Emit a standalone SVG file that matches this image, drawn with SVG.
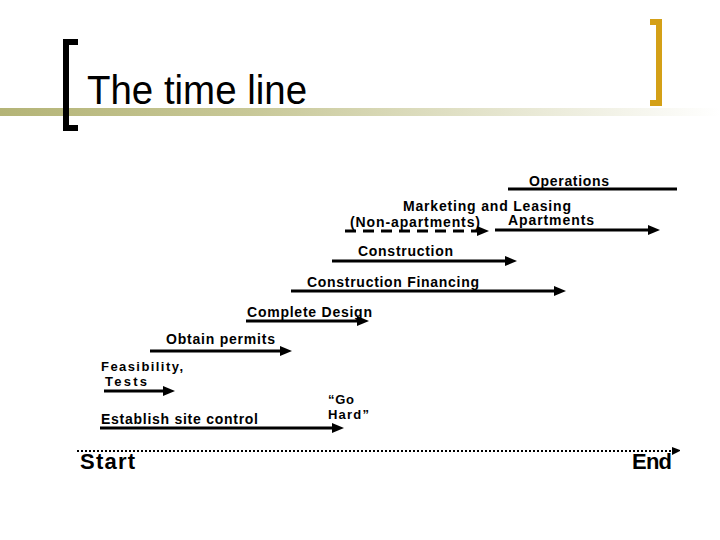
<svg xmlns="http://www.w3.org/2000/svg" width="720" height="540" viewBox="0 0 720 540">
<defs>
<linearGradient id="bar" x1="0" y1="0" x2="1" y2="0">
<stop offset="0" stop-color="#b4b477"/>
<stop offset="0.35" stop-color="#c8c898"/>
<stop offset="1" stop-color="#ffffff"/>
</linearGradient>
<marker id="ah" viewBox="0 0 12 10" refX="0" refY="5" markerWidth="12" markerHeight="10" markerUnits="userSpaceOnUse" orient="auto">
<path d="M0,0 L12,5 L0,10 Z" fill="#000"/>
</marker>
<marker id="ahs" viewBox="0 0 8 8" refX="0" refY="4" markerWidth="8" markerHeight="8" markerUnits="userSpaceOnUse" orient="auto">
<path d="M0,0 L8,3 L8,4 L0,8 Z" fill="#000"/>
</marker>
</defs>
<style>
.lbl{font-family:"Liberation Sans",Arial,sans-serif;font-weight:bold;font-size:14px;fill:#000}
.sm{font-size:13px}
.big{font-family:"Liberation Sans",Arial,sans-serif;font-weight:bold;font-size:22px;fill:#000}
.ln{stroke:#000;stroke-width:3;fill:none}
.arr{marker-end:url(#ah)}
</style>
<rect width="720" height="540" fill="#fff"/>
<g id="title">
<rect x="0" y="108" width="720" height="8" fill="url(#bar)"/>
<path d="M78,42 L66,42 L66,128 L78,128" fill="none" stroke="#000" stroke-width="6"/>
<path d="M650,22 L659,22 L659,103 L650,103" fill="none" stroke="#d4a017" stroke-width="6"/>
<text x="87" y="104" font-family="Liberation Sans,Arial,sans-serif" font-size="40" fill="#000" textLength="220" lengthAdjust="spacingAndGlyphs">The time line</text>
</g>
<g id="connectors">
<line class="ln" x1="508" y1="189" x2="677" y2="189"/>
<line class="ln arr" x1="345" y1="231" x2="477" y2="231" stroke-dasharray="11,7"/>
<line class="ln arr" x1="495" y1="230" x2="648" y2="230"/>
<line class="ln arr" x1="332" y1="261" x2="505" y2="261"/>
<line class="ln arr" x1="291" y1="291" x2="554" y2="291"/>
<line class="ln arr" x1="246" y1="321" x2="357" y2="321"/>
<line class="ln arr" x1="150" y1="351" x2="280" y2="351"/>
<line class="ln arr" x1="104" y1="391" x2="163" y2="391"/>
<line class="ln arr" x1="100" y1="428" x2="332" y2="428"/>
<line x1="77" y1="451" x2="672" y2="451" stroke="#000" stroke-width="2" stroke-dasharray="2,2" marker-end="url(#ahs)"/>
</g>
<g id="operations"><text class="lbl" x="529" y="186" textLength="80" lengthAdjust="spacing">Operations</text></g>
<g id="marketing">
<text class="lbl" x="403" y="211" textLength="168" lengthAdjust="spacing">Marketing and Leasing</text>
<text class="lbl" x="350" y="227" textLength="130" lengthAdjust="spacing">(Non-apartments)</text>
</g>
<g id="apartments"><text class="lbl" x="508" y="225" textLength="86" lengthAdjust="spacing">Apartments</text></g>
<g id="construction"><text class="lbl" x="358" y="256" textLength="95" lengthAdjust="spacing">Construction</text></g>
<g id="financing"><text class="lbl" x="307" y="287" textLength="172" lengthAdjust="spacing">Construction Financing</text></g>
<g id="design"><text class="lbl" x="247" y="317" textLength="125" lengthAdjust="spacing">Complete Design</text></g>
<g id="permits"><text class="lbl" x="166" y="344" textLength="109" lengthAdjust="spacing">Obtain permits</text></g>
<g id="feasibility">
<text class="lbl sm" x="101" y="371" textLength="82" lengthAdjust="spacing">Feasibility,</text>
<text class="lbl sm" x="105" y="386" textLength="42" lengthAdjust="spacing">Tests</text>
</g>
<g id="site"><text class="lbl" x="101" y="424" textLength="157" lengthAdjust="spacing">Establish site control</text></g>
<g id="gohard">
<text class="lbl sm" x="328" y="404" textLength="26" lengthAdjust="spacing">“Go</text>
<text class="lbl sm" x="328" y="419" textLength="41" lengthAdjust="spacing">Hard”</text>
</g>
<g id="start"><text class="big" x="80" y="469" textLength="55" lengthAdjust="spacing">Start</text></g>
<g id="end"><text class="big" x="632" y="469" textLength="40" lengthAdjust="spacing">End</text></g>
</svg>
